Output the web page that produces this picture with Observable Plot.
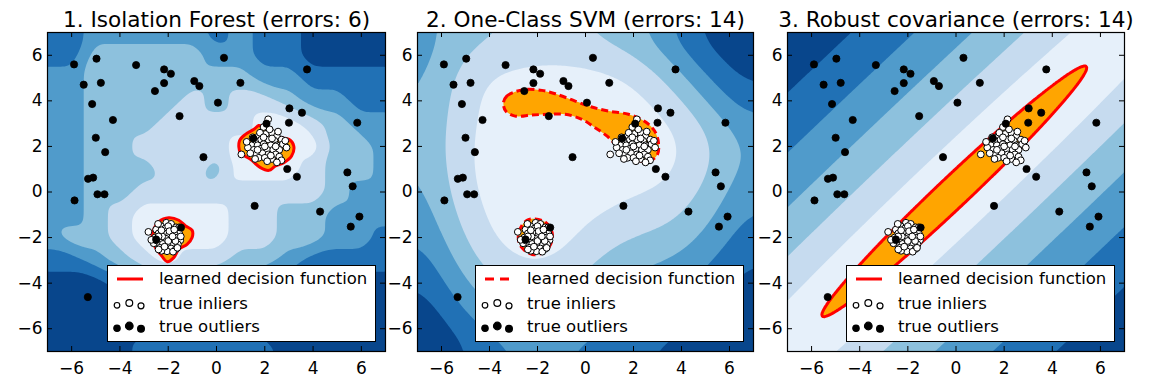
<!DOCTYPE html>
<html>
<head>
<meta charset="utf-8">
<script src="https://cdn.jsdelivr.net/npm/d3@7"></script>
<script src="https://cdn.jsdelivr.net/npm/@observablehq/plot@0.6"></script>
<style>
html,body{margin:0;padding:0;background:#fff;}
#chart{position:relative;width:1170px;height:390px;overflow:hidden;background:#fff;font-family:"DejaVu Sans",sans-serif;}
#chart > svg{position:absolute;top:0;}
</style>
</head>
<body>
<div id="chart"></div>
<script>
// ================= DATA =================
const panelTitles = [
  "1. Isolation Forest (errors: 6)",
  "2. One-Class SVM (errors: 14)",
  "3. Robust covariance (errors: 14)"
];
const tickValues = [-6, -4, -2, 0, 2, 4, 6];
const gridCoords = [-7, -6, -5, -4, -3, -2, -1, 0, 1, 2, 3, 4, 5, 6, 7];
const legendLabels = ["learned decision function", "true inliers", "true outliers"];

// true outliers (black)
const outliers = [
  [-5.9, 5.6], [-4.97, 5.85], [-5.5, 4.71], [-4.79, 4.79], [-5.15, 3.86], [-4.29, 3.16],
  [-5.0, 2.38], [-4.61, 1.75], [-5.32, 0.58], [-5.11, 0.63], [-4.93, -0.1], [-4.64, -0.1],
  [-5.88, -0.37], [-3.33, 5.57], [-2.17, 5.38], [-1.89, 5.19], [-2.17, 4.78], [-2.55, 4.43],
  [-0.92, 4.87], [-0.71, 4.65], [0.31, 5.89], [0.99, 4.79], [0.06, 3.92], [-1.53, 3.33],
  [-0.54, 1.53], [3.75, 5.38], [3.02, 3.67], [3.54, 3.48], [3.0, 3.04], [5.83, 3.04],
  [2.93, 1.01], [3.33, 0.67], [5.42, 0.86], [5.64, 0.25], [1.58, -0.61], [4.29, -0.86],
  [5.56, -1.52], [5.92, -1.08], [-5.33, -4.61], [-1.47, -1.56], [-2.5, -2.08], [1.53, 2.35],
  [2.07, 3.0]
];
// true inliers (white), cluster near (2, 2)
const inliersA = [
  [2.14, 3.19], [1.95, 2.85], [2.05, 2.55], [2.3, 2.6], [1.75, 2.45], [2.5, 2.45], [1.6, 2.25],
  [1.85, 2.3], [2.15, 2.3], [2.4, 2.25], [2.7, 2.3], [1.45, 2.05], [1.7, 2.05], [1.95, 2.1],
  [2.25, 2.05], [2.5, 2.05], [2.75, 2.1], [1.3, 1.95], [1.55, 1.85], [1.85, 1.9], [2.1, 1.85],
  [2.35, 1.85], [2.6, 1.85], [1.65, 1.65], [1.9, 1.7], [2.15, 1.65], [2.45, 1.65], [1.75, 1.5],
  [2.0, 1.5], [2.3, 1.45], [2.6, 1.55], [2.69, 1.39], [1.03, 1.65], [1.5, 2.4], [2.85, 2.25],
  [2.2, 2.75], [1.4, 1.7], [2.0, 2.0], [2.3, 2.35], [1.8, 2.6], [2.55, 2.65], [1.6, 1.45],
  [2.1, 1.35], [2.5, 1.3], [1.25, 2.2], [2.9, 1.95], [1.95, 2.4], [2.45, 2.0], [1.7, 1.85], [2.25, 1.6]
];
// true inliers (white), cluster near (-2, -2)
const inliersB = [
  [-2.82, -1.75], [-1.98, -2.55], [-2.08, -1.35], [-1.88, -1.4], [-2.3, -1.5], [-1.68, -1.55],
  [-2.5, -1.65], [-2.12, -1.6], [-1.92, -1.65], [-1.55, -1.8], [-2.4, -1.82], [-2.18, -1.82],
  [-1.96, -1.88], [-1.75, -1.82], [-2.55, -2.0], [-2.32, -2.05], [-2.1, -2.05], [-1.88, -2.1],
  [-1.62, -2.0], [-1.5, -2.12], [-2.45, -2.28], [-2.22, -2.28], [-2.0, -2.28], [-1.78, -2.32],
  [-1.6, -2.3], [-2.35, -2.45], [-2.12, -2.45], [-1.88, -2.48], [-1.68, -2.5], [-2.05, -2.6],
  [-2.28, -2.58], [-1.55, -1.55], [-2.6, -2.25], [-1.48, -1.95], [-2.0, -1.5], [-2.42, -1.4],
  [-1.8, -2.62], [-2.25, -1.95], [-2.0, -2.15], [-1.7, -2.15], [-2.5, -2.12], [-1.95, -1.72],
  [-2.28, -1.68], [-1.75, -1.65], [-2.4, -2.52], [-1.62, -2.45], [-2.7, -2.1], [-2.15, -2.4],
  [-1.82, -1.95], [-2.4, -1.95]
];

// Isolation Forest: band index (0 darkest .. 5 lightest) read at integer points, rows y = 7 .. -7
const forestLevels = [
  [1,1,2,2,2,2,2,1,2,1,1,0,0,0,0],
  [1,1,3,3,3,3,3,2,2,1,1,0,0,0,0],
  [2,2,3,3,3,3,3,3,3,2,2,1,1,1,1],
  [2,2,3,3,3,3,4,3,4,4,3,2,2,1,1],
  [2,2,3,3,3,4,4,4,4,5,5,4,3,2,2],
  [2,2,3,3,4,4,4,4,5,5,5,5,3,3,2],
  [2,2,3,3,3,4,4,3,5,5,5,4,3,3,2],
  [2,2,3,3,4,4,4,4,4,4,4,4,3,2,2],
  [2,2,3,4,5,5,5,5,4,4,3,3,2,2,2],
  [2,3,3,4,5,5,5,5,4,4,3,3,2,2,1],
  [1,1,2,3,4,5,4,4,3,3,2,1,1,1,1],
  [0,0,0,1,2,2,2,2,2,1,1,0,0,0,0],
  [0,0,0,0,1,1,1,1,1,1,0,0,0,0,0],
  [0,0,0,0,0,1,1,1,1,0,0,0,0,0,0],
  [0,0,0,0,1,1,1,1,1,1,0,0,0,0,0]
];
const forestRegionA = [
  [1.89, 2.89], [2.31, 2.68], [2.58, 2.41], [3.0, 2.31], [3.2, 2.02], [3.11, 1.58], [2.79, 1.29],
  [2.44, 1.14], [2.17, 0.95], [1.82, 1.07], [1.41, 1.43], [0.99, 1.73], [0.95, 2.24], [1.2, 2.53],
  [1.55, 2.75], [1.75, 2.92]
];
const forestRegionB = [
  [-1.98, -1.13], [-1.56, -1.24], [-1.28, -1.49], [-1.01, -1.68], [-1.01, -2.0], [-1.22, -2.3],
  [-1.56, -2.51], [-1.77, -2.88], [-2.04, -3.06], [-2.32, -2.73], [-2.53, -2.44], [-2.67, -2.0],
  [-2.6, -1.64], [-2.39, -1.3]
];

// One-Class SVM: band position read at integer points, rows y = 7 .. -7
const svmLevels = [
  [2.3, 3.1, 3.5, 3.7, 3.8, 3.9, 3.9, 3.8, 3.5, 3.1, 2.5, 1.3, 0.6, 0.2, 0.0],
  [2.4, 3.2, 4.0, 4.4, 4.6, 4.7, 4.7, 4.6, 4.4, 4.0, 3.3, 2.3, 1.2, 0.6, 0.2],
  [2.6, 3.5, 4.6, 5.2, 5.4, 5.6, 5.6, 5.5, 5.3, 5.0, 4.3, 3.3, 2.0, 1.2, 0.6],
  [2.7, 3.7, 4.7, 5.3, 5.6, 5.6, 5.6, 5.6, 5.6, 5.4, 4.9, 4.2, 3.0, 1.9, 1.2],
  [2.8, 3.8, 4.8, 5.4, 5.6, 5.6, 5.6, 5.6, 5.6, 5.6, 5.4, 4.8, 4.0, 3.0, 2.2],
  [2.8, 3.9, 4.9, 5.5, 5.6, 5.6, 5.6, 5.6, 5.6, 5.6, 5.6, 5.1, 4.3, 3.4, 2.6],
  [2.7, 3.8, 4.9, 5.5, 5.6, 5.6, 5.6, 5.6, 5.6, 5.6, 5.4, 5.0, 4.2, 3.3, 2.5],
  [2.5, 3.6, 4.8, 5.4, 5.6, 5.6, 5.6, 5.6, 5.4, 5.1, 5.0, 4.6, 3.8, 2.9, 2.1],
  [2.2, 3.3, 4.5, 5.2, 5.6, 5.6, 5.6, 5.2, 4.9, 4.6, 4.4, 4.1, 3.3, 2.5, 1.7],
  [1.8, 2.9, 4.1, 5.0, 5.5, 5.6, 5.4, 4.8, 4.3, 4.0, 3.8, 3.5, 2.8, 2.0, 1.3],
  [1.3, 2.4, 3.6, 4.5, 5.0, 5.2, 4.9, 4.3, 3.7, 3.3, 3.1, 2.8, 2.2, 1.5, 0.9],
  [0.8, 1.8, 2.9, 3.8, 4.3, 4.5, 4.3, 3.7, 3.1, 2.7, 2.4, 2.2, 1.6, 1.0, 0.5],
  [0.3, 1.2, 2.2, 3.0, 3.5, 3.7, 3.5, 3.0, 2.5, 2.1, 1.8, 1.6, 1.1, 0.6, 0.2],
  [0.0, 0.6, 1.5, 2.2, 2.7, 2.8, 2.7, 2.3, 1.9, 1.5, 1.3, 1.1, 0.7, 0.3, 0.0],
  [0.0, 0.1, 0.8, 1.4, 1.8, 2.0, 1.9, 1.6, 1.3, 1.0, 0.8, 0.6, 0.3, 0.0, 0.0]
];
const svmRegionA = [
  [-3.42, 3.92], [-3.28, 4.21], [-2.93, 4.4], [-2.51, 4.5], [-1.82, 4.46], [-1.26, 4.31],
  [-0.43, 3.99], [0.26, 3.73], [0.96, 3.55], [1.79, 3.41], [2.49, 3.08], [2.88, 2.68],
  [3.04, 2.16], [3.0, 1.65], [2.69, 1.36], [2.14, 1.39], [1.72, 1.58], [1.31, 2.02],
  [0.89, 2.46], [0.4, 2.82], [-0.15, 3.19], [-0.85, 3.41], [-1.54, 3.41], [-2.24, 3.38],
  [-2.93, 3.33], [-3.32, 3.55]
];
const svmRegionB = [
  [-2.1, -1.18], [-1.68, -1.32], [-1.42, -1.68], [-1.38, -2.05], [-1.52, -2.42], [-1.85, -2.7],
  [-2.22, -2.74], [-2.52, -2.58], [-2.76, -2.26], [-2.79, -1.85], [-2.63, -1.44], [-2.42, -1.23]
];

// Robust covariance: fitted ellipse (center, orientation in degrees, semi-axes)
const covCenter = [-0.07, 0.03];
const covAngle = 45;
const covSemiAxes = [7.76, 0.66];

// Blues_r bands (darkest -> lightest) then inside-region colour
const bandColors = ["#08468c", "#2171b5", "#509bcb", "#8dc1dd", "#c6dbef", "#e6f0fa", "#ffa500"];
const regionColor = "#ffa500";
const boundaryColor = "#ff0000";

// ================= LAYOUT =================
const layout = [
  {left: 0, width: 400, ml: 47, mr: 15},
  {left: 390, width: 380, ml: 27, mr: 17},
  {left: 760, width: 410, ml: 27, mr: 46}
];
const H = 390, MT = 32, MB = 39, tickLen = 5;
const chart = document.getElementById("chart");
const inliers = inliersA.concat(inliersB);

function pointsFromGrid(rows, offset) {
  const n = gridCoords.length, out = [];
  rows.forEach((row, i) => row.forEach((v, j) =>
    out.push({x: gridCoords[j], y: gridCoords[n - 1 - i], v: v + offset})));
  return out;
}

function regionMarks(region, dashed) {
  const o = {x: d => d[0], y: d => d[1], curve: "catmull-rom-closed"};
  const line = {...o, stroke: boundaryColor, strokeWidth: 3, strokeLinecap: "butt", fill: "none"};
  if (dashed) line.strokeDasharray = "7,4";
  return [
    Plot.line(region, {...o, fill: regionColor, stroke: "none"}),
    Plot.line(region, line)
  ];
}

function covDist(x, y) {
  const t = covAngle * Math.PI / 180;
  const dx = x - covCenter[0], dy = y - covCenter[1];
  const u = dx * Math.cos(t) + dy * Math.sin(t);
  const v = -dx * Math.sin(t) + dy * Math.cos(t);
  return (u / covSemiAxes[0]) ** 2 + (v / covSemiAxes[1]) ** 2;
}
const covQmax = d3.max([[-7, -7], [-7, 7], [7, -7], [7, 7]], ([x, y]) => Math.cbrt(covDist(x, y)));
const covBand = (x, y) => 6 * (covQmax - Math.cbrt(covDist(x, y))) / (covQmax - 1);

function makePanel(idx, fieldMarks, dashed) {
  const s = layout[idx];
  const plotW = s.width - s.ml - s.mr, plotH = H - MT - MB;
  const svg = Plot.plot({
    width: s.width, height: H,
    marginLeft: s.ml, marginRight: s.mr, marginTop: MT, marginBottom: MB,
    x: {domain: [-7, 7]},
    y: {domain: [-7, 7]},
    color: {type: "threshold", domain: [1, 2, 3, 4, 5, 6], range: bandColors},
    style: {fontFamily: '"DejaVu Sans", sans-serif', fontSize: "17px", color: "black", background: "transparent", overflow: "visible"},
    marks: [
      Plot.frame({fill: bandColors[0], stroke: "none"}),
      ...fieldMarks,
      Plot.dot(inliers, {x: d => d[0], y: d => d[1], r: 3.4, fill: "white", stroke: "black", strokeWidth: 1}),
      Plot.dot(outliers, {x: d => d[0], y: d => d[1], r: 3.6, fill: "black", stroke: "black", strokeWidth: 0.8}),
      Plot.tickX(tickValues, {x: d => d, insetTop: plotH - tickLen, stroke: "black"}),
      Plot.tickX(tickValues, {x: d => d, insetBottom: plotH - tickLen, stroke: "black"}),
      Plot.tickY(tickValues, {y: d => d, insetRight: plotW - tickLen, stroke: "black"}),
      Plot.tickY(tickValues, {y: d => d, insetLeft: plotW - tickLen, stroke: "black"}),
      Plot.axisX({ticks: tickValues, tickSize: 0, tickPadding: 10, label: null}),
      Plot.axisY({ticks: tickValues, tickSize: 0, tickPadding: 5, label: null}),
      Plot.frame({stroke: "black", strokeWidth: 1.2}),
      Plot.text([panelTitles[idx]], {text: d => d, frameAnchor: "top", dy: -6, lineAnchor: "bottom", fontSize: 21.6, fill: "black"})
    ]
  });
  svg.style.left = s.left + "px";
  chart.appendChild(svg);
  addLegend(s.left + s.width - s.mr, dashed);
}

function addLegend(frameRight, dashed) {
  const w = 269, h = 77, left = frameRight - 9 - w, top = 265;
  const svg = d3.create("svg").attr("width", w).attr("height", h)
    .style("position", "absolute").style("left", left + "px").style("top", top + "px");
  svg.append("rect").attr("x", 0.5).attr("y", 0.5).attr("width", w - 1).attr("height", h - 1)
    .attr("fill", "white").attr("stroke", "black").attr("stroke-width", 1);
  const ln = svg.append("line").attr("x1", 10).attr("x2", 36).attr("y1", 14).attr("y2", 14)
    .attr("stroke", boundaryColor).attr("stroke-width", 3);
  if (dashed) ln.attr("stroke-dasharray", "9,6");
  const handles = [[10, 1.3, 2.8], [22.3, -1.0, 3.4], [34, 1.8, 3.0]];
  [[39, "white"], [62, "black"]].forEach(([cy, fill]) => {
    handles.forEach(([cx, dy, r]) => svg.append("circle").attr("cx", cx).attr("cy", cy + dy)
      .attr("r", fill === "black" ? r + 0.4 : r).attr("fill", fill).attr("stroke", "black").attr("stroke-width", 1.2));
  });
  [19.3, 44, 67.3].forEach((y, i) => svg.append("text").attr("x", 52).attr("y", y)
    .attr("font-family", '"DejaVu Sans", sans-serif').attr("font-size", 16.5).attr("fill", "black")
    .text(legendLabels[i]));
  chart.appendChild(svg.node());
}

// Panel 1: Isolation Forest
makePanel(0, [
  Plot.contour(pointsFromGrid(forestLevels, 0.5), {x: "x", y: "y", fill: "v", interpolate: "barycentric", blur: 2, thresholds: [1, 2, 3, 4, 5], stroke: "none", clip: true}),
  ...regionMarks(forestRegionA, false),
  ...regionMarks(forestRegionB, false)
], false);

// Panel 2: One-Class SVM
makePanel(1, [
  Plot.contour(pointsFromGrid(svmLevels, 0), {x: "x", y: "y", fill: "v", interpolate: "barycentric", blur: 8, thresholds: [1, 2, 3, 4, 5], stroke: "none", clip: true}),
  ...regionMarks(svmRegionA, true),
  ...regionMarks(svmRegionB, true)
], true);

// Panel 3: Robust covariance
makePanel(2, [
  Plot.contour({x1: -7, y1: -7, x2: 7, y2: 7, fill: covBand, thresholds: [1, 2, 3, 4, 5, 6], stroke: "none"}),
  Plot.contour({x1: -7, y1: -7, x2: 7, y2: 7, value: covBand, thresholds: [6], stroke: boundaryColor, strokeWidth: 3, fill: "none"})
], false);
</script>
</body>
</html>
